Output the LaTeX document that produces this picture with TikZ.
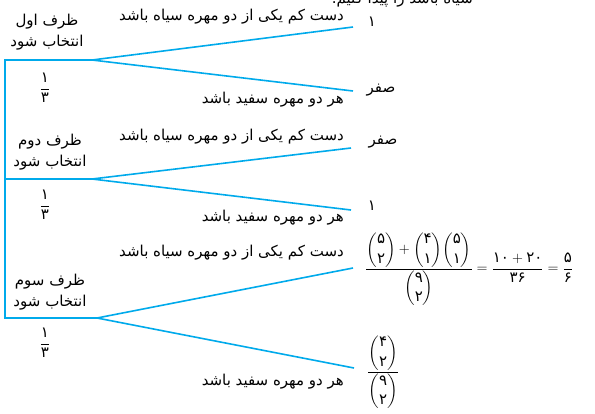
\documentclass[tikz,border=0pt]{standalone}
\usepackage{amsmath}
\usepackage{fontspec}
\usepackage{xcolor}
\newfontfamily\arabicfont[Script=Arabic]{DejaVu Sans}
\TeXXeTstate=1
\definecolor{branch}{RGB}{0,170,235}
\newcommand{\fd}[1]{\text{\arabicfont #1}}

\begin{document}
\begin{tikzpicture}[x=1pt, y=-1pt,
  edge/.style={branch, line width=1.6pt},
  fa/.style={font=\arabicfont\fontsize{15}{21}\selectfont, inner sep=0pt, align=center},
  mth/.style={font=\fontsize{15}{18}\selectfont, inner sep=0pt}]
\useasboundingbox (0,0) rectangle (595,413);
\clip (0,0) rectangle (595,413);
% vertices
\coordinate (L1) at (5,60);
\coordinate (L2) at (5,179);
\coordinate (L3) at (5,318);
\coordinate (J1) at (92,60);
\coordinate (J2) at (92,179);
\coordinate (J3) at (97,318);
\coordinate (E1a) at (353,27);
\coordinate (E1b) at (353,91);
\coordinate (E2a) at (351,148);
\coordinate (E2b) at (351,210);
\coordinate (E3a) at (353,268);
\coordinate (E3b) at (354,368);
% edges
\draw[edge] (J1) -- (L1) -- (L3) -- (J3);
\draw[edge] (L2) -- (J2);
\draw[edge] (E1a) -- (J1) -- (E1b);
\draw[edge] (E2a) -- (J2) -- (E2b);
\draw[edge] (E3a) -- (J3) -- (E3b);
% cut-off line of text above
\node[fa, anchor=base east] (top) at (473,3) {\beginR سیاه باشد را پیدا کنیم.\endR};
% urns
\node[fa] (U1) at (47,32) {\beginR ظرف اول\endR\\\beginR انتخاب شود\endR};
\node[fa] (U2) at (50,152) {\beginR ظرف دوم\endR\\\beginR انتخاب شود\endR};
\node[fa] (U3) at (50,292) {\beginR ظرف سوم\endR\\\beginR انتخاب شود\endR};
\node[mth] (P1) at (45,88) {$\dfrac{\fd{۱}}{\fd{۳}}$};
\node[mth] (P2) at (45,205) {$\dfrac{\fd{۱}}{\fd{۳}}$};
\node[mth] (P3) at (45,343) {$\dfrac{\fd{۱}}{\fd{۳}}$};
% branch labels
\node[fa, anchor=east] (B1a) at (344,17) {\beginR دست کم یکی از دو مهره سیاه باشد\endR};
\node[fa, anchor=east] (B1b) at (344,100) {\beginR هر دو مهره سفید باشد\endR};
\node[fa, anchor=east] (B2a) at (344,137) {\beginR دست کم یکی از دو مهره سیاه باشد\endR};
\node[fa, anchor=east] (B2b) at (344,218) {\beginR هر دو مهره سفید باشد\endR};
\node[fa, anchor=east] (B3a) at (344,253) {\beginR دست کم یکی از دو مهره سیاه باشد\endR};
\node[fa, anchor=east] (B3b) at (344,382) {\beginR هر دو مهره سفید باشد\endR};
% results
\node[fa] (R1a) at (372,22) {۱};
\node[fa] (R1b) at (381,90) {\beginR صفر\endR};
\node[fa] (R2a) at (383,142) {\beginR صفر\endR};
\node[fa] (R2b) at (372,206) {۱};
\node[mth, anchor=west] (R3a) at (365,269)
  {$\dfrac{\dbinom{\fd{۵}}{\fd{۲}}+\dbinom{\fd{۴}}{\fd{۱}}\dbinom{\fd{۵}}{\fd{۱}}}{\dbinom{\fd{۹}}{\fd{۲}}}
   =\dfrac{\fd{۱۰}+\fd{۲۰}}{\fd{۳۶}}=\dfrac{\fd{۵}}{\fd{۶}}$};
\node[mth, anchor=west] (R3b) at (367,372)
  {$\dfrac{\dbinom{\fd{۴}}{\fd{۲}}}{\dbinom{\fd{۹}}{\fd{۲}}}$};
\end{tikzpicture}
\end{document}
